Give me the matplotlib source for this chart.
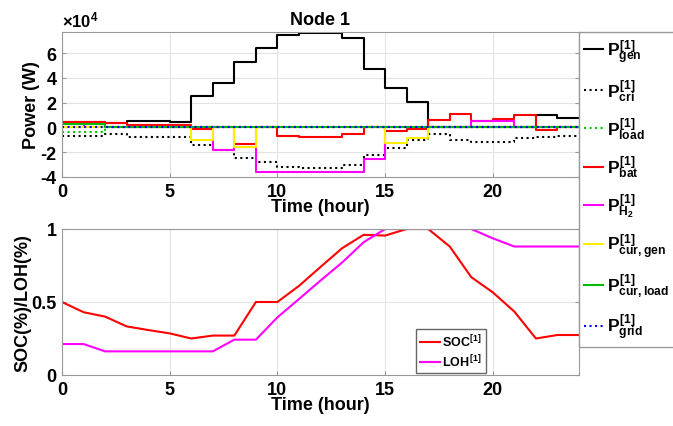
import numpy as np
import matplotlib.pyplot as plt

# fonter som ligner MATLAB (Helvetica fet)
plt.rcParams['font.family'] = ['Liberation Sans', 'DejaVu Sans']
plt.rcParams['font.weight'] = 'bold'
plt.rcParams['mathtext.fontset'] = 'custom'
plt.rcParams['mathtext.rm'] = 'Liberation Sans:bold'
plt.rcParams['mathtext.it'] = 'Liberation Sans:bold'
plt.rcParams['mathtext.bf'] = 'Liberation Sans:bold'

# timer (trappekurver, verdi gjelder fra time t til t+1)
hours = np.arange(25)

P_gen = [4000, 4000, 3200, 5500, 5500, 4600, 25500, 36000, 53000, 64000, 74800, 76500,
         76500, 72300, 47000, 31500, 20700, 0, 0, 0, 0, 0, 10000, 7300]
P_cri = [-6700, -6700, -5600, -7800, -7800, -7800, -14000, -18000, -24500, -27700, -31700, -32800,
         -32800, -30500, -22000, -16400, -10200, -5600, -10200, -11500, -11500, -8800, -8000, -7000]
P_load = [-3500, -3500, 0, 0, 0, 0, 0, 0, 0, 0, 0, 0,
          0, 0, 0, 0, 0, 0, 0, 0, 0, 0, 0, 0]
P_bat = [4000, 4000, 3200, 1900, 1900, 2000, -1300, 0, -13000, 0, -6700, -7500,
         -7500, -5000, 0, -2700, -1300, 5900, 10500, 5500, 6700, 10000, -2100, 0]
P_H2 = [0, 3000, 0, 0, 0, 0, 0, -18300, -16000, -35800, -35800, -35800,
        -35800, -35800, -25700, 0, 0, 0, 0, 5400, 5400, 0, 0, 0]
P_cur_gen = [0, 0, 0, 0, 0, 0, -10500, 0, -16000, 0, 0, 0,
             0, 0, 0, -12900, -8300, 0, 0, 0, 0, 0, 0, 0]
P_cur_load = [2400, 2400, 0, 0, 0, 0, 0, 0, 0, 0, 0, 0,
              0, 0, 0, 0, 0, 0, 0, 0, 0, 0, 0, 0]
P_grid = [0] * 24

# ladetilstand og hydrogennivå, en verdi per time 0..24
SOC = [0.5, 0.43, 0.40, 0.333, 0.308, 0.285, 0.25, 0.27, 0.27, 0.5, 0.5, 0.61, 0.74,
       0.868, 0.96, 0.955, 1.0, 1.0, 0.88, 0.67, 0.566, 0.434, 0.25, 0.274, 0.274]
LOH = [0.212, 0.212, 0.162, 0.162, 0.162, 0.162, 0.162, 0.162, 0.242, 0.242, 0.395, 0.52, 0.647,
       0.77, 0.909, 1.0, 1.0, 1.0, 1.0, 1.0, 0.936, 0.88, 0.88, 0.88, 0.88]

labels = [r'$P^{[1]}_{gen}$', r'$P^{[1]}_{cri}$', r'$P^{[1]}_{load}$', r'$P^{[1]}_{bat}$',
          r'$P^{[1]}_{H_2}$', r'$P^{[1]}_{cur,gen}$', r'$P^{[1]}_{cur,load}$', r'$P^{[1]}_{grid}$']
series = [P_gen, P_cri, P_load, P_bat, P_H2, P_cur_gen, P_cur_load, P_grid]
colors = ['black', 'black', '#00cc00', 'red', '#ff00ff', '#ffee00', '#00bb00', 'blue']
styles = ['-', ':', ':', '-', '-', '-', '-', ':']

fig = plt.figure(figsize=(6.73, 4.27), dpi=100)
ax1 = fig.add_axes([62/673, 1-178/427, 517/673, 145/427])
ax2 = fig.add_axes([62/673, 1-376/427, 517/673, 146/427])

def style_axes(ax):
    ax.grid(True, color='#e3e3e3', linewidth=0.8)
    ax.set_axisbelow(True)
    for s in ax.spines.values():
        s.set_color('#999999')
    ax.tick_params(direction='in', length=3, color='#999999', labelsize=13,
                   top=False, right=True, pad=4)
    for lab in ax.get_xticklabels() + ax.get_yticklabels():
        lab.set_fontweight('bold')
    ax.set_xlim(0, 24)
    ax.set_xticks([0, 5, 10, 15, 20])

# øvre plott: effekter
for vals, c, ls, lab in zip(series, colors, styles, labels):
    y = np.append(vals, vals[-1])
    ax1.step(hours, y, where='post', color=c, linestyle=ls, linewidth=1.5, label=lab)
ax1.set_ylim(-40000, 77000)
ax1.set_yticks([-40000, -20000, 0, 20000, 40000, 60000])
ax1.set_yticklabels(['-4', '-2', '0', '2', '4', '6'])
style_axes(ax1)
ax1.set_title('Node 1', fontsize=13, fontweight='bold', pad=6)
ax1.set_ylabel('Power (W)', fontsize=13, fontweight='bold', labelpad=0)
ax1.set_xlabel('Time (hour)', fontsize=13, fontweight='bold', labelpad=-1)
ax1.text(0.0, 1.02, r'$\times10^4$', transform=ax1.transAxes, fontsize=12, ha='left', va='bottom')

# nedre plott: SOC og LOH
ax2.plot(hours, SOC, color='red', linewidth=1.5, label=r'$SOC^{[1]}$')
ax2.plot(hours, LOH, color='#ff00ff', linewidth=1.5, label=r'$LOH^{[1]}$')
ax2.set_ylim(0, 1)
ax2.set_yticks([0, 0.5, 1])
ax2.set_yticklabels(['0', '0.5', '1'])
style_axes(ax2)
ax2.set_ylabel('SOC(%)/LOH(%)', fontsize=13, fontweight='bold', labelpad=0)
ax2.set_xlabel('Time (hour)', fontsize=13, fontweight='bold', labelpad=-1)
leg2 = ax2.legend(loc='upper left', bbox_to_anchor=(416/673, 1-330/427), bbox_transform=fig.transFigure,
                  fontsize=9, fancybox=False, edgecolor='#666666', framealpha=1,
                  handlelength=1.6, handletextpad=0.2, borderaxespad=0, borderpad=0.3,
                  labelspacing=0.3)

# felles legende til høyre
h, l = ax1.get_legend_handles_labels()
leg = fig.legend(h, l, loc='upper left', bbox_to_anchor=(579/673, 1-33/427),
                 fontsize=12.5, fancybox=False, edgecolor='#999999', framealpha=1,
                 handlelength=1.1, handletextpad=0.2, borderaxespad=0, borderpad=0.3,
                 labelspacing=0.68)

fig.savefig('out.png', dpi=100)
